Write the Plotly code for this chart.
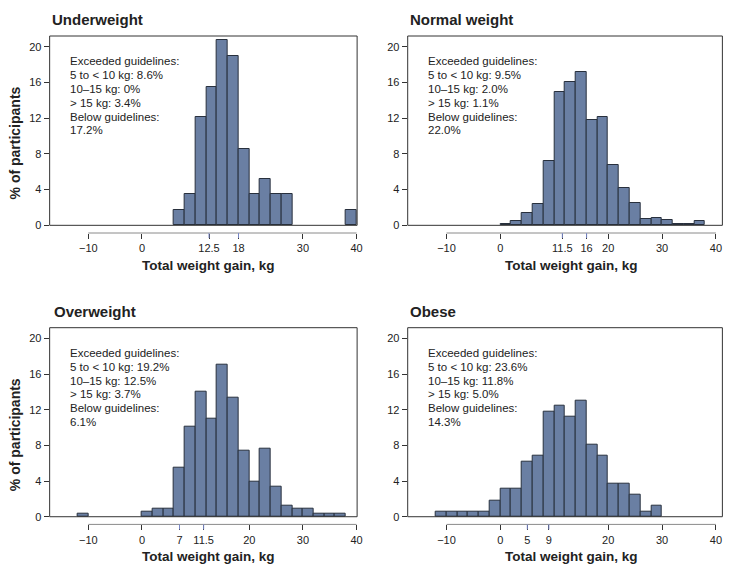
import plotly.graph_objects as go

# ---- data (percent of participants per 2-kg bin, bins labelled by their left edge) ----
panel_titles = ["Underweight", "Normal weight", "Overweight", "Obese"]

under_bins = [6, 8, 10, 12, 14, 16, 18, 20, 22, 24, 26, 38]
under_pct = [1.7, 3.5, 12.1, 15.5, 20.7, 19.0, 8.6, 3.5, 5.2, 3.5, 3.5, 1.7]

normal_bins = [0, 2, 4, 6, 8, 10, 12, 14, 16, 18, 20, 22, 24, 26, 28, 30, 32, 34, 36]
normal_pct = [0.2, 0.45, 1.4, 2.35, 7.15, 14.9, 16.1, 17.2, 11.85, 12.1, 6.8, 4.15, 2.45,
              0.7, 0.8, 0.55, 0.2, 0.2, 0.5]

over_bins = [-12, 0, 2, 4, 6, 8, 10, 12, 14, 16, 18, 20, 22, 24, 26, 28, 30, 32, 34, 36]
over_pct = [0.3, 0.6, 0.9, 0.9, 5.5, 10.1, 14.05, 11.0, 17.1, 13.4, 7.35, 3.95, 7.6, 3.35,
            1.2, 0.9, 0.9, 0.3, 0.3, 0.3]

obese_bins = [-12, -10, -8, -6, -4, -2, 0, 2, 4, 6, 8, 10, 12, 14, 16, 18, 20, 22, 24, 26, 28]
obese_pct = [0.6, 0.6, 0.6, 0.6, 0.6, 1.85, 3.1, 3.1, 6.2, 6.8, 11.8, 12.45, 11.2, 13.05,
             8.1, 6.8, 3.7, 3.7, 2.5, 0.6, 1.2]

bins = [under_bins, normal_bins, over_bins, obese_bins]
pcts = [under_pct, normal_pct, over_pct, obese_pct]

# x ticks: regular ones plus the guideline ticks (drawn in blue)
tick_vals = [
    [-10, 0, 12.5, 18, 30, 40],
    [-10, 0, 11.5, 16, 20, 30, 40],
    [-10, 0, 7, 11.5, 20, 30, 40],
    [-10, 0, 5, 9, 20, 30, 40],
]
guide_ticks = [[12.5, 18], [11.5, 16], [7, 11.5], [5, 9]]

notes = [
    ["8.6%", "0%", "3.4%", "17.2%"],
    ["9.5%", "2.0%", "1.1%", "22.0%"],
    ["19.2%", "12.5%", "3.7%", "6.1%"],
    ["23.6%", "11.8%", "5.0%", "14.3%"],
]

# ---- layout geometry, in pixels of the 739x577 page ----
# the page body keeps its default 8px margin, so the figure itself is 8px smaller
PAGE_W, PAGE_H = 739, 577
OFF = 8
W, H = PAGE_W - OFF, PAGE_H - OFF

col_px = [(50, 360), (411, 728.3)]
row_px = [(36, 233.0), (327.7, 524.4)]        # top of box, axis line
x_ranges = [[-17.2, 40.1], [-17.2, 41.2]]
y_range = [-0.86, 21.2]

FONT = "Liberation Sans, Arial, Helvetica, sans-serif"
BAR_FILL = "#6a7fa3"
BAR_LINE = "#28303d"
DARK = "#333333"
TEXT = "#222222"
GUIDE = "#7a89c9"


def px(x):
    return (x - OFF) / W


def py(y):
    return 1 - (y - OFF) / H


def fmt_tick(v):
    return f"{v:g}".replace("-", "\u2212")


fig = go.Figure()
shapes = []
annotations = []
layout = {}

for i in range(4):
    r, c = divmod(i, 2)
    n = i + 1
    xd = [px(col_px[c][0]), px(col_px[c][1])]
    yd = [py(row_px[r][1]), py(row_px[r][0])]
    xr = x_ranges[c]

    def xp(v, xd=xd, xr=xr):
        return xd[0] + (v - xr[0]) / (xr[1] - xr[0]) * (xd[1] - xd[0])

    def yp(v, yd=yd):
        return yd[0] + (v - y_range[0]) / (y_range[1] - y_range[0]) * (yd[1] - yd[0])

    fig.add_trace(go.Bar(
        x=[b + 1 for b in bins[i]], y=pcts[i], width=2,
        marker=dict(color=BAR_FILL, line=dict(color=BAR_LINE, width=1)),
        xaxis=f"x{n}", yaxis=f"y{n}", showlegend=False,
    ))

    layout[f"xaxis{n}"] = dict(
        domain=xd, range=xr, anchor=f"y{n}",
        tickvals=tick_vals[i], ticktext=[fmt_tick(v) for v in tick_vals[i]],
        ticks="outside", ticklen=5, tickwidth=1, tickcolor=DARK,
        tickfont=dict(size=11, color=TEXT),
        showgrid=False, zeroline=False, showline=False, fixedrange=True,
    )
    layout[f"yaxis{n}"] = dict(
        domain=yd, range=y_range, anchor=f"x{n}",
        tickvals=[0, 4, 8, 12, 16, 20],
        ticks="outside", ticklen=5, tickwidth=1, tickcolor=DARK,
        tickfont=dict(size=11, color=TEXT),
        showgrid=False, zeroline=False, showline=False, fixedrange=True,
    )

    # frame around the bars
    shapes.append(dict(type="rect", xref="paper", yref="paper",
                       x0=xd[0], x1=xd[1], y0=yp(0), y1=yd[1],
                       line=dict(color=DARK, width=1)))
    # detached x axis line from -10 to 40
    shapes.append(dict(type="line", xref="paper", yref="paper",
                       x0=xp(-10), x1=xp(40), y0=yd[0], y1=yd[0],
                       line=dict(color="#8a8a8a", width=1)))
    # guideline ticks in blue
    for g in guide_ticks[i]:
        shapes.append(dict(type="line", xref="paper", yref="paper",
                           x0=xp(g), x1=xp(g), y0=yd[0], y1=yd[0] - 5 / H,
                           line=dict(color=GUIDE, width=1)))

    # panel title
    title_x = [50, 411, 52, 411][i]
    annotations.append(dict(text=f"<b>{panel_titles[i]}</b>", xref="paper", yref="paper",
                            x=px(title_x), y=py(row_px[r][0] - 16.7),
                            xanchor="left", yanchor="middle", showarrow=False,
                            font=dict(size=15, color=TEXT)))
    # x axis title
    annotations.append(dict(text="<b>Total weight gain, kg</b>", xref="paper", yref="paper",
                            x=px([210, 576][c]), y=py(row_px[r][1] + 32),
                            xanchor="center", yanchor="middle", showarrow=False,
                            font=dict(size=13.5, color=TEXT)))
    # y axis title (left column only)
    if c == 0:
        annotations.append(dict(text="<b>% of participants</b>", xref="paper", yref="paper",
                                x=px(15), y=py(row_px[r][0] + 106.5),
                                xanchor="center", yanchor="middle", textangle=-90,
                                showarrow=False, font=dict(size=14, color=TEXT)))

    # summary text block
    a, b, d, e = notes[i]
    lines = ["Exceeded guidelines:", f"5 to &lt; 10 kg: {a}", f"10\u201315 kg: {b}",
             f"&gt; 15 kg: {d}", "Below guidelines:", e]
    text_x = [69, 429.3][c]
    first_y = row_px[r][0] + 25.3
    for k, line in enumerate(lines):
        annotations.append(dict(text=line, xref="paper", yref="paper",
                                x=px(text_x), y=py(first_y + k * 13.8),
                                xanchor="left", yanchor="middle", showarrow=False,
                                font=dict(size=11.5, color=TEXT)))

fig.update_layout(
    width=W, height=H,
    margin=dict(l=0, r=0, t=0, b=0),
    paper_bgcolor="white", plot_bgcolor="white",
    font=dict(family=FONT, color=TEXT),
    bargap=0, showlegend=False,
    shapes=shapes, annotations=annotations,
    **layout,
)

fig.write_html("out.html")
